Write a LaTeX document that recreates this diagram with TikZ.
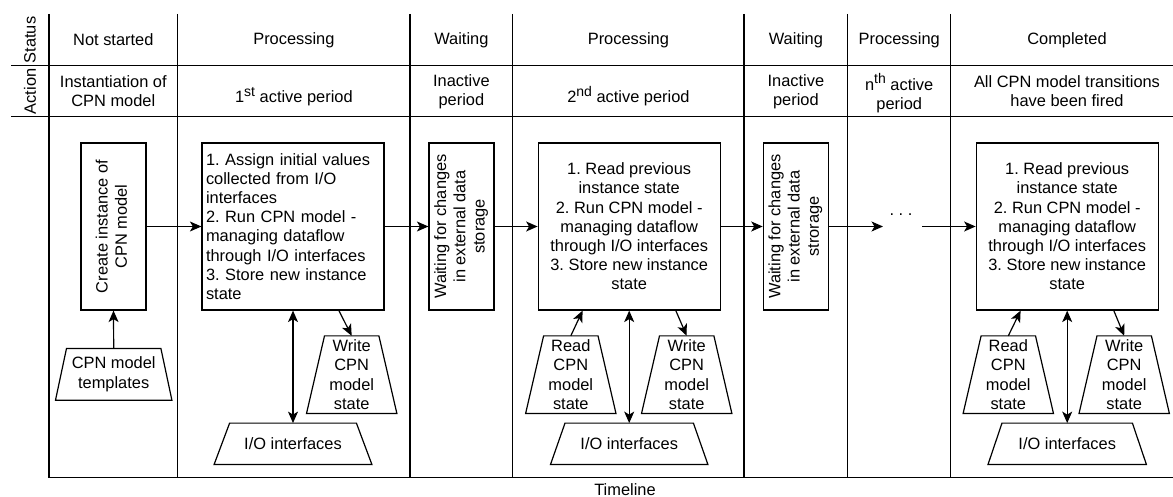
\documentclass[tikz,border=0pt]{standalone}
\usepackage{fontspec}
\usepackage{graphicx}
\setmainfont{Liberation Sans}
\usetikzlibrary{arrows.meta,calc}
\frenchspacing
\newcommand{\trapnode}[6]{%
  \node[trapbox, minimum width=#3pt, minimum height=#4pt] (#1) at (#2) {#6};
  \draw[ln] (#1.south west) -- (#1.south east) -- ($(#1.north east)+(-#5,0)$) -- ($(#1.north west)+(#5,0)$) -- cycle;
}
\newcommand{\vtext}[1]{\rotatebox{90}{\begin{tabular}{@{}c@{}}#1\end{tabular}}}
\newcommand{\supx}[1]{\raisebox{6.5pt}{\fontsize{14}{14}\selectfont #1}}
\begin{document}
\frenchspacing
\begin{tikzpicture}[x=1pt,y=-1pt,
  every node/.style={font=\fontsize{16.4}{19.2}\selectfont\frenchspacing, inner sep=0pt},
  ln/.style={line width=1.2pt},
  tip/.tip={Stealth[length=11.5pt,width=10pt,inset=3pt]},
  arr/.style={ln,-tip},
  darr/.style={ln,tip-tip},
  box/.style={draw, ln, minimum height=167pt, inner sep=0pt},
  lbl/.style={align=center},
  trapbox/.style={align=center},
]
\useasboundingbox (0,0) rectangle (1173,497);

% grid
\draw[ln] (11,65.7) -- (1173,65.7);
\draw[ln] (11,116.7) -- (1173,116.7);
\draw[ln] (49,477.7) -- (1173,477.7);
\foreach \x in {49,177.7,410,512.7,744,847.7,950.7} \draw[ln] (\x,14) -- (\x,477.7);

% row labels
\node[rotate=90] (st) at (30,40) {Status};
\node[rotate=90] (ac) at (30,91.5) {Action};

% status row
\node (s1) at (113.3,40) {Not started};
\node (s2) at (293.9,40) {Processing};
\node (s3) at (461.4,40) {Waiting};
\node (s4) at (628.4,40) {Processing};
\node (s5) at (795.9,40) {Waiting};
\node (s6) at (899.2,40) {Processing};
\node (s7) at (1067,40) {Completed};

% action row
\node[lbl] (a1) at (113.3,91.5) {Instantiation of\\CPN model};
\node[anchor=base] (a2) at (293.9,103) {1\supx{st} active period};
\node[lbl] (a3) at (461.4,91.5) {Inactive\\period};
\node[anchor=base] (a4) at (628.4,103) {2\supx{nd} active period};
\node[lbl] (a5) at (795.9,91.5) {Inactive\\period};
\node[lbl] (a6) at (899.2,93) {n\supx{th} active\\period};
\node[lbl] (a7) at (1067,91.5) {All CPN model transitions\\have been fired};

% main boxes
\node[box, minimum width=65pt] (cr) at (113.5,226.5) {\vtext{Create instance of\\CPN model}};
\node[box, minimum width=182pt, text width=174pt, align=left, inner xsep=4pt] (b1) at (293,226.5)
  {1. Assign initial values\\collected from I/O\\interfaces\\2. Run CPN model -\\managing dataflow\\through I/O interfaces\\3. Store new instance\\state};
\node[box, minimum width=65pt] (w1) at (461.5,226.5) {\vtext{Waiting for changes\\in external data\\storage}};
\node[box, minimum width=182pt, align=center] (b2) at (629.2,226.5)
  {1. Read previous\\instance state\\2. Run CPN model -\\managing dataflow\\through I/O interfaces\\3. Store new instance\\state};
\node[box, minimum width=65pt] (w2) at (795.8,226.5) {\vtext{Waiting for changes\\in external data\\strorage}};
\node[box, minimum width=182pt, align=center] (b3) at (1067.2,226.5)
  {1. Read previous\\instance state\\2. Run CPN model -\\managing dataflow\\through I/O interfaces\\3. Store new instance\\state};

% horizontal flow
\draw[arr] (cr.east) -- (b1.west);
\draw[arr] (b1.east) -- (w1.west);
\draw[arr] (w1.east) -- (b2.west);
\draw[arr] (b2.east) -- (w2.west);
\coordinate (gl) at (883,226.5);
\coordinate (gr) at (922,226.5);
\draw[arr] (w2.east) -- (gl);
\node[anchor=base] (dots) at (901,216) {. . .};
\draw[arr] (gr) -- (b3.west);

% column 1
\trapnode{tpl}{113.7,374.3}{116}{51.3}{11}{CPN model\\templates}
\draw[arr] (tpl.north) -- (cr.south);

% column 2
\trapnode{wr1}{351.7,374.7}{90}{77.3}{18}{Write\\CPN\\model\\state}
\draw[arr] ($(b1.south east)+(-45.7,0)$) -- (wr1.north);
\trapnode{io1}{293,443.8}{157.4}{41}{15.5}{I/O interfaces}
\draw[darr] (b1.south) -- (io1.north);

% column 4
\trapnode{rd2}{570.8,374.7}{90}{77.3}{18}{Read\\CPN\\model\\state}
\draw[arr] (rd2.north) -- ($(b2.south west)+(45,0)$);
\trapnode{wr2}{686.7,374.7}{90}{77.3}{18}{Write\\CPN\\model\\state}
\draw[arr] ($(b2.south east)+(-45,0)$) -- (wr2.north);
\trapnode{io2}{629.2,443.8}{157}{41}{14.5}{I/O interfaces}
\draw[darr] (b2.south) -- (io2.north);

% column 7
\trapnode{rd3}{1008.3,374.7}{90}{77.3}{18}{Read\\CPN\\model\\state}
\draw[arr] (rd3.north) -- ($(b3.south west)+(45,0)$);
\trapnode{wr3}{1124.2,374.7}{90}{77.3}{18}{Write\\CPN\\model\\state}
\draw[arr] ($(b3.south east)+(-45,0)$) -- (wr3.north);
\trapnode{io3}{1067.2,443.8}{158}{41}{14}{I/O interfaces}
\draw[darr] (b3.south) -- (io3.north);

% timeline
\node (tl) at (625,490) {Timeline};
\end{tikzpicture}
\end{document}
